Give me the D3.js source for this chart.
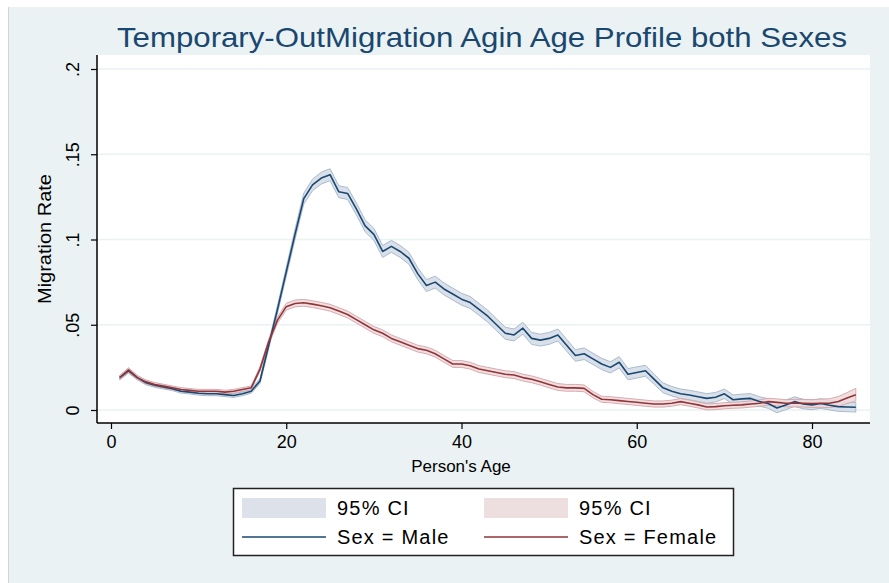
<!DOCTYPE html>
<html>
<head>
<meta charset="utf-8">
<script src="https://cdn.jsdelivr.net/npm/d3@7"></script>
<style>
  body { margin: 0; background: #fff; }
  svg { display: block; font-family: "Liberation Sans", Arial, sans-serif; }
</style>
</head>
<body>
<div id="wrapper"></div>
<script>
// Data: migration rate by age (1..85)
const ages = d3.range(1, 86)

const maleRate = [
  0.019, 0.023, 0.019, 0.016, 0.0145, 0.0135, 0.0125, 0.011, 0.0105, 0.0098,
  0.0095, 0.0095, 0.009, 0.0085, 0.0095, 0.011, 0.017, 0.038, 0.059, 0.081,
  0.103, 0.124, 0.132, 0.136, 0.138, 0.128, 0.127, 0.118, 0.108, 0.103,
  0.093, 0.096, 0.093, 0.089, 0.080, 0.073, 0.075, 0.071, 0.068, 0.065,
  0.063, 0.059, 0.055, 0.050, 0.045, 0.044, 0.048, 0.042, 0.041, 0.042,
  0.044, 0.038, 0.032, 0.033, 0.030, 0.027, 0.025, 0.028, 0.021, 0.022,
  0.023, 0.018, 0.013, 0.011, 0.0095, 0.0088, 0.0078, 0.0068, 0.0075, 0.0095,
  0.006, 0.0065, 0.0068, 0.005, 0.0038, 0.0012, 0.003, 0.0049, 0.0035, 0.003,
  0.0038, 0.0028, 0.002, 0.0018, 0.0016
]

const femaleRate = [
  0.019, 0.0235, 0.019, 0.0165, 0.015, 0.014, 0.013, 0.012, 0.0115, 0.011,
  0.011, 0.011, 0.0105, 0.011, 0.012, 0.013, 0.024, 0.040, 0.0527, 0.0606,
  0.0625, 0.0629, 0.0621, 0.0611, 0.060, 0.058, 0.056, 0.053, 0.050, 0.047,
  0.045, 0.042, 0.040, 0.038, 0.036, 0.035, 0.033, 0.030, 0.027, 0.027,
  0.026, 0.024, 0.023, 0.022, 0.021, 0.0205, 0.019, 0.018, 0.0166, 0.015,
  0.0135, 0.013, 0.013, 0.0127, 0.009, 0.0063, 0.006, 0.0055, 0.005, 0.0045,
  0.004, 0.0035, 0.0035, 0.004, 0.0049, 0.004, 0.003, 0.0018, 0.002, 0.0025,
  0.0028, 0.003, 0.0035, 0.004, 0.0049, 0.0045, 0.004, 0.004, 0.004, 0.0038,
  0.004, 0.004, 0.005, 0.007, 0.009
]

// half width of the 95% CI band
const maleCI = [
  0.0013, 0.0014, 0.0013, 0.0012, 0.0012, 0.0012, 0.0011, 0.0011, 0.0011, 0.0011,
  0.0011, 0.0011, 0.0011, 0.0011, 0.0011, 0.0012, 0.0015, 0.002, 0.0023, 0.0027,
  0.003, 0.0032, 0.0034, 0.0035, 0.0035, 0.0035, 0.0035, 0.0035, 0.0035, 0.0035,
  0.0035, 0.0035, 0.0035, 0.0035, 0.0035, 0.0035, 0.0035, 0.0035, 0.0035, 0.0035,
  0.0035, 0.0035, 0.0035, 0.0035, 0.0035, 0.0035, 0.0035, 0.0035, 0.0035, 0.0035,
  0.0035, 0.0035, 0.0034, 0.0034, 0.0033, 0.0033, 0.0033, 0.0033, 0.0033, 0.0033,
  0.0032, 0.003, 0.0029, 0.0028, 0.0028, 0.0028, 0.0028, 0.0028, 0.0028, 0.0028,
  0.0028, 0.0028, 0.0028, 0.0028, 0.0028, 0.0028, 0.0028, 0.0028, 0.0028, 0.0028,
  0.0028, 0.0028, 0.0028, 0.0028, 0.0028
]

const femaleCI = [
  0.0012, 0.0013, 0.0012, 0.0011, 0.0011, 0.0011, 0.0011, 0.0011, 0.0011, 0.0011,
  0.0011, 0.0011, 0.0011, 0.0011, 0.0011, 0.0011, 0.0013, 0.0016, 0.0018, 0.002,
  0.002, 0.002, 0.002, 0.002, 0.002, 0.002, 0.002, 0.002, 0.002, 0.002,
  0.002, 0.002, 0.002, 0.002, 0.002, 0.002, 0.002, 0.002, 0.002, 0.002,
  0.002, 0.002, 0.002, 0.002, 0.002, 0.002, 0.002, 0.002, 0.002, 0.002,
  0.002, 0.002, 0.002, 0.002, 0.0019, 0.0018, 0.0018, 0.0018, 0.0018, 0.0018,
  0.0018, 0.0018, 0.0018, 0.0018, 0.0018, 0.0018, 0.0018, 0.0018, 0.0018, 0.0018,
  0.0018, 0.0018, 0.0018, 0.0019, 0.002, 0.002, 0.0021, 0.0022, 0.0022, 0.0023,
  0.0024, 0.0026, 0.0029, 0.0032, 0.0037
]

const xTicks = [0, 20, 40, 60, 80]
const yTicks = [0, 0.05, 0.1, 0.15, 0.2]
const yTickLabels = ["0", ".05", ".1", ".15", ".2"]

const titleText = "Temporary-OutMigration Agin Age Profile both Sexes"
const legendItems = [
  { label: "95% CI", kind: "area", color: "#dce1ea" },
  { label: "95% CI", kind: "area", color: "#eddfe0" },
  { label: "Sex = Male", kind: "line", color: "#1a476f" },
  { label: "Sex = Female", kind: "line", color: "#90353b" },
]

// Chart dimensions
const dimensions = {
  width: 889,
  height: 583,
  plot: { left: 97, right: 870, top: 55, bottom: 423 },
}

const wrapper = d3.select("#wrapper")
  .append("svg")
  .attr("width", dimensions.width)
  .attr("height", dimensions.height)

// outer background
wrapper.append("rect")
  .attr("x", 8)
  .attr("y", 7)
  .attr("width", dimensions.width - 8)
  .attr("height", dimensions.height - 7)
  .attr("fill", "#eaf2f3")
wrapper.append("line")
  .attr("x1", 8.5).attr("x2", 8.5)
  .attr("y1", 7).attr("y2", dimensions.height)
  .attr("stroke", "#cfd6d8")

const p = dimensions.plot
wrapper.append("rect")
  .attr("x", p.left)
  .attr("y", p.top)
  .attr("width", p.right - p.left)
  .attr("height", p.bottom - p.top)
  .attr("fill", "#ffffff")

// Scales
const xScale = d3.scaleLinear()
  .domain([0, 80])
  .range([111, 812])

const yScale = d3.scaleLinear()
  .domain([0, 0.2])
  .range([410, 69])

// gridlines
wrapper.append("g")
  .selectAll("line")
  .data(yTicks)
  .enter().append("line")
  .attr("x1", p.left)
  .attr("x2", p.right)
  .attr("y1", d => yScale(d))
  .attr("y2", d => yScale(d))
  .attr("stroke", "#eaf2f3")
  .attr("stroke-width", 1.5)

// Draw data
const series = [
  { values: maleRate, ci: maleCI, line: "#1a476f", fill: "#d2dbe6", edge: "#a3b5ca" },
  { values: femaleRate, ci: femaleCI, line: "#90353b", fill: "#efd9da", edge: "#d4a4a8" },
]

const areaGenerator = d3.area()
  .x(d => xScale(d.age))
  .y0(d => yScale(d.lo))
  .y1(d => yScale(d.hi))

const lineGenerator = d3.line()
  .x(d => xScale(d.age))
  .y(d => yScale(d.v))

series.forEach(s => {
  const rows = ages.map((a, i) => ({
    age: a,
    v: s.values[i],
    lo: s.values[i] - s.ci[i],
    hi: s.values[i] + s.ci[i],
  }))
  wrapper.append("path")
    .datum(rows)
    .attr("d", areaGenerator)
    .attr("fill", s.fill)
    .attr("fill-opacity", 0.85)
    .attr("stroke", s.edge)
    .attr("stroke-width", 0.9)
  s.rows = rows
})

series.forEach(s => {
  wrapper.append("path")
    .datum(s.rows)
    .attr("d", lineGenerator)
    .attr("fill", "none")
    .attr("stroke", s.line)
    .attr("stroke-width", 1.6)
    .attr("stroke-linejoin", "round")
})

// Draw peripherals
const xAxisGenerator = d3.axisBottom()
  .scale(xScale)
  .tickValues(xTicks)
  .tickSize(6)
  .tickPadding(6)

const xAxis = wrapper.append("g")
  .attr("transform", `translate(0, ${p.bottom})`)
  .call(xAxisGenerator)
xAxis.select(".domain").remove()
xAxis.selectAll(".tick line").attr("stroke", "#000").attr("stroke-width", 1.2)
xAxis.selectAll(".tick text")
  .attr("fill", "#000")
  .style("font-size", "18px")
  .style("font-family", "Liberation Sans, Arial, sans-serif")

const yAxisGenerator = d3.axisLeft()
  .scale(yScale)
  .tickValues(yTicks)
  .tickSize(6)
  .tickFormat((d, i) => yTickLabels[i])

const yAxis = wrapper.append("g")
  .attr("transform", `translate(${p.left}, 0)`)
  .call(yAxisGenerator)
yAxis.select(".domain").remove()
yAxis.selectAll(".tick line").attr("stroke", "#000").attr("stroke-width", 1.2)
yAxis.selectAll(".tick text")
  .attr("x", null)
  .attr("dy", null)
  .attr("transform", "translate(-18, 0) rotate(-90)")
  .attr("text-anchor", "middle")
  .attr("fill", "#000")
  .style("font-size", "18px")
  .style("font-family", "Liberation Sans, Arial, sans-serif")

// axis lines
wrapper.append("line")
  .attr("x1", p.left).attr("x2", p.left)
  .attr("y1", p.top).attr("y2", p.bottom)
  .attr("stroke", "#000").attr("stroke-width", 1.5)
wrapper.append("line")
  .attr("x1", p.left).attr("x2", p.right)
  .attr("y1", p.bottom).attr("y2", p.bottom)
  .attr("stroke", "#000").attr("stroke-width", 1.5)

// titles
wrapper.append("text")
  .attr("x", 482)
  .attr("y", 47)
  .attr("text-anchor", "middle")
  .attr("fill", "#1a476f")
  .attr("textLength", 730)
  .attr("lengthAdjust", "spacingAndGlyphs")
  .style("font-size", "28px")
  .text(titleText)

wrapper.append("text")
  .attr("x", 461)
  .attr("y", 472)
  .attr("text-anchor", "middle")
  .attr("fill", "#000")
  .style("font-size", "17px")
  .text("Person's Age")

wrapper.append("text")
  .attr("transform", "translate(51, 239) rotate(-90)")
  .attr("text-anchor", "middle")
  .attr("fill", "#000")
  .attr("textLength", 130)
  .attr("lengthAdjust", "spacingAndGlyphs")
  .style("font-size", "18px")
  .text("Migration Rate")

// legend
const legend = wrapper.append("g")
legend.append("rect")
  .attr("x", 233.5)
  .attr("y", 488.5)
  .attr("width", 500)
  .attr("height", 67)
  .attr("fill", "#fff")
  .attr("stroke", "#222")
  .attr("stroke-width", 1.5)

const colX = [242, 484]
const rowY = [508, 537]
legendItems.forEach((item, i) => {
  const cx = colX[i % 2]
  const cy = rowY[Math.floor(i / 2)]
  if (item.kind === "area") {
    legend.append("rect")
      .attr("x", cx)
      .attr("y", cy - 10)
      .attr("width", 84)
      .attr("height", 20)
      .attr("fill", item.color)
  } else {
    legend.append("line")
      .attr("x1", cx).attr("x2", cx + 84)
      .attr("y1", cy).attr("y2", cy)
      .attr("stroke", item.color)
      .attr("stroke-width", 1.5)
  }
  legend.append("text")
    .attr("x", cx + 95)
    .attr("y", cy + 7)
    .attr("fill", "#000")
    .style("font-size", "20px")
    .style("letter-spacing", "1.2px")
    .text(item.label)
})
</script>
</body>
</html>
